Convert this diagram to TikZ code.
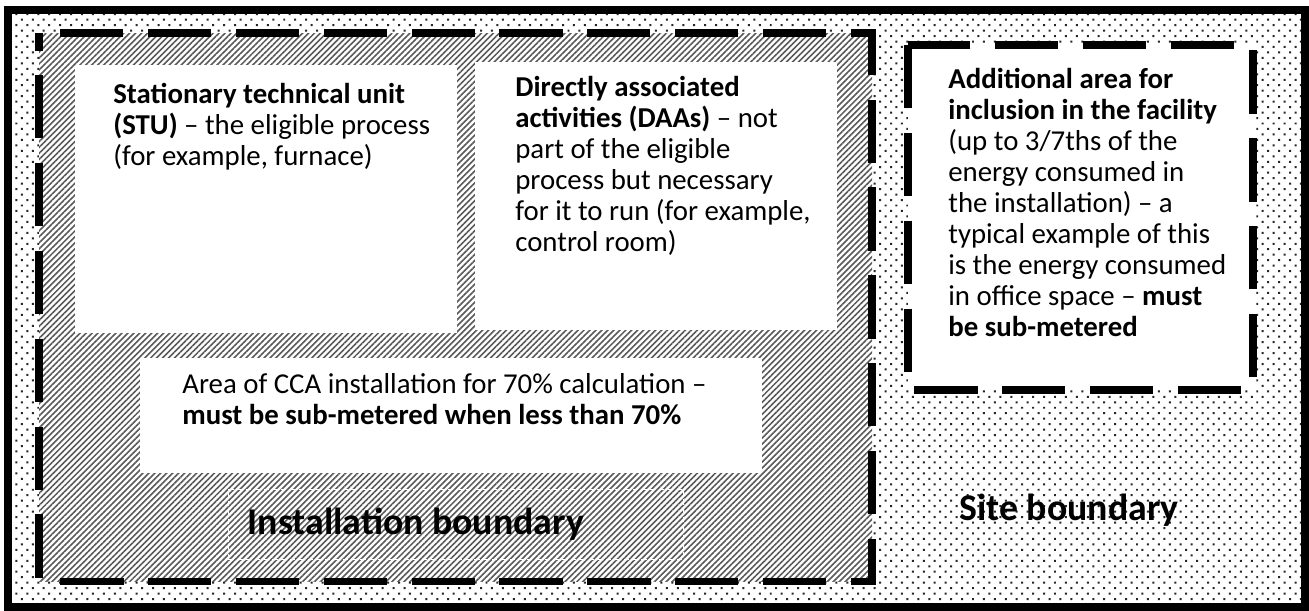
\documentclass[tikz,border=0pt]{standalone}
\usepackage{fontspec}
\setmainfont{Carlito}
\usetikzlibrary{patterns.meta}
\begin{document}
\begin{tikzpicture}[x=0.02cm, y=-0.02cm,
    txt/.style = {anchor=north west, inner sep=0pt, align=left,
                  font=\fontsize{16.4}{17.6}\selectfont},
    big/.style = {inner sep=0pt, font=\fontsize{21.5}{24}\selectfont\bfseries},
    whitebox/.style = {fill=white},
    bound/.style = {line width=4pt, dash pattern=on 36pt off 14pt},
    sitefill/.style = {preaction={fill=white}, pattern={Dots[angle=45, distance=4.4pt, radius=0.8pt]}, pattern color=black!85},
    hatchfill/.style = {preaction={fill=white}, pattern={Lines[angle=45, distance=2.4pt, line width=0.9pt]}, pattern color=black!65}]
  \useasboundingbox (0,0) rectangle (1309,610);
  % site and installation areas
  \fill[sitefill] (8,10) rectangle (1305,607);
  \fill[hatchfill] (39,33) rectangle (872,581);
  %
  \fill[whitebox] (75,65) rectangle (457,333);
  \fill[whitebox] (475,62) rectangle (837,330);
  \fill[whitebox] (140,358) rectangle (762,473);
  \fill[whitebox] (908,45) rectangle (1253,390);
  %
  \draw[bound, dash phase=26pt] (39,33) rectangle (872,581);
  \draw[bound] (908,45) rectangle (1253,390);
  \draw[line width=5pt] (8,10) rectangle (1305,607);
  %
  \node[txt] (stu) at (113,83) {\textbf{Stationary technical unit}\\
    \textbf{(STU)} – the eligible process\\
    (for example, furnace)};
  \node[txt] (daa) at (515,76) {\textbf{Directly associated}\\
    \textbf{activities (DAAs)} – not\\
    part of the eligible\\
    process but necessary\\
    for it to run (for example,\\
    control room)};
  \node[txt] (extra) at (948,68) {\textbf{Additional area for}\\
    \textbf{inclusion in the facility}\\
    (up to 3/7ths of the\\
    energy consumed in\\
    the installation) – a\\
    typical example of this\\
    is the energy consumed\\
    in office space – \textbf{must}\\
    \textbf{be sub-metered}};
  \node[txt] (cca) at (182,373) {Area of CCA installation for 70\% calculation –\\
    \textbf{must be sub-metered when less than 70\%}};
  %
  \node[draw=white, densely dashed, line width=0.4pt,
        minimum width=259pt, minimum height=40pt] (inst) at (456,524) {};
  \node[big, anchor=west, xshift=11pt] (instlabel) at (inst.west) {Installation boundary};
  \node[big] (site) at (1069,510) {Site boundary};
\end{tikzpicture}
\end{document}
